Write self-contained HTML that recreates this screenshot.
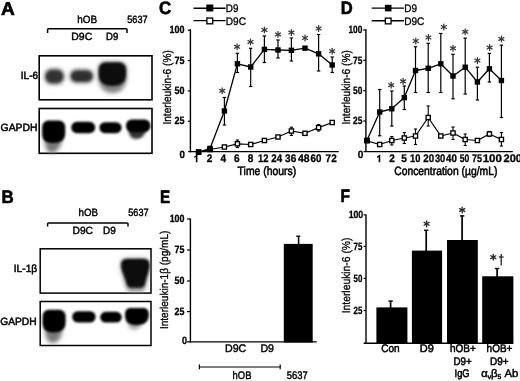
<!DOCTYPE html>
<html><head><meta charset="utf-8"><title>Figure</title>
<style>html,body{margin:0;padding:0;background:#fff;}svg{display:block;opacity:0.999;}text{font-family:"Liberation Sans",sans-serif;text-rendering:geometricPrecision;}</style>
</head><body>
<svg width="520" height="381" viewBox="0 0 520 381">
<defs>
<filter id="b1" x="-30%" y="-30%" width="160%" height="160%"><feGaussianBlur stdDeviation="1.6"/></filter>
<filter id="b2" x="-30%" y="-30%" width="160%" height="160%"><feGaussianBlur stdDeviation="1.1"/></filter>
<filter id="b3" x="-30%" y="-30%" width="160%" height="160%"><feGaussianBlur stdDeviation="2.2"/></filter>
</defs>
<rect width="520" height="381" fill="#fff"/>
<text x="0.90" y="14.50" font-size="18.4" font-weight="bold" fill="#000" textLength="13.80" lengthAdjust="spacingAndGlyphs"  stroke="#000" stroke-width="0.6">A</text>
<text x="1.40" y="202.80" font-size="18" font-weight="bold" fill="#000" textLength="12.20" lengthAdjust="spacingAndGlyphs"  stroke="#000" stroke-width="0.6">B</text>
<text x="159.00" y="14.30" font-size="18" font-weight="bold" fill="#000" textLength="12.20" lengthAdjust="spacingAndGlyphs"  stroke="#000" stroke-width="0.6">C</text>
<text x="340.80" y="14.30" font-size="18" font-weight="bold" fill="#000" textLength="12.00" lengthAdjust="spacingAndGlyphs"  stroke="#000" stroke-width="0.6">D</text>
<text x="160.00" y="202.60" font-size="18" font-weight="bold" fill="#000" textLength="10.20" lengthAdjust="spacingAndGlyphs"  stroke="#000" stroke-width="0.6">E</text>
<text x="340.40" y="202.30" font-size="18" font-weight="bold" fill="#000" textLength="9.50" lengthAdjust="spacingAndGlyphs"  stroke="#000" stroke-width="0.6">F</text>
<text x="77.20" y="23.40" font-size="10.5" font-weight="normal" fill="#000" textLength="19.80" lengthAdjust="spacingAndGlyphs"  stroke="#000" stroke-width="0.45">hOB</text>
<text x="127.30" y="23.40" font-size="10.5" font-weight="normal" fill="#000" textLength="20.20" lengthAdjust="spacingAndGlyphs"  stroke="#000" stroke-width="0.45">5637</text>
<text x="71.30" y="40.40" font-size="10.5" font-weight="normal" fill="#000" textLength="21.00" lengthAdjust="spacingAndGlyphs"  stroke="#000" stroke-width="0.45">D9C</text>
<text x="106.00" y="40.40" font-size="10.5" font-weight="normal" fill="#000" textLength="12.20" lengthAdjust="spacingAndGlyphs"  stroke="#000" stroke-width="0.45">D9</text>
<path d="M47.6 33 L47.6 29.6 Q47.6 28.8 48.6 28.8 L126 28.8 Q127 28.8 127 29.6 L127 33" fill="none" stroke="#000" stroke-width="1.5"/>
<rect x="39.20" y="55.80" width="112.80" height="44.00" fill="none" stroke="#000" stroke-width="1.6"/>
<rect x="39.20" y="108.50" width="112.80" height="44.80" fill="none" stroke="#000" stroke-width="1.6"/>
<text x="20.80" y="79.40" font-size="10.5" font-weight="normal" fill="#000" textLength="17.40" lengthAdjust="spacingAndGlyphs"  stroke="#000" stroke-width="0.5">IL-6</text>
<text x="0.60" y="131.30" font-size="10.5" font-weight="normal" fill="#000" textLength="36.80" lengthAdjust="spacingAndGlyphs"  stroke="#000" stroke-width="0.5">GAPDH</text>
<rect x="45.0" y="69.0" width="18.8" height="15.0" rx="6.5" fill="#3d3d3d" filter="url(#b3)"/>
<rect x="46.5" y="71.5" width="15.8" height="10.0" rx="5.0" fill="#333" filter="url(#b1)"/>
<rect x="70.2" y="69.8" width="23.0" height="12.8" rx="6.0" fill="#3d3d3d" filter="url(#b3)"/>
<rect x="72.0" y="72.0" width="19.4" height="8.6" rx="4.3" fill="#2e2e2e" filter="url(#b1)"/>
<path d="M98.0 69.8 C98.0 64.2 101.2 61.8 106.0 61.8 L118.8 61.8 C123.6 61.8 126.8 64.2 126.8 69.8 L126.8 76.0 C126.8 86.2 121.5 93.0 112.5 93.0 C103.5 93.0 98.0 86.2 98.0 76.0 Z" fill="#808080" filter="url(#b3)"/>
<path d="M98.8 70.6 C98.8 65.0 102.0 62.6 106.8 62.6 L118.0 62.6 C122.8 62.6 126.0 65.0 126.0 70.6 L126.0 75.0 C126.0 81.6 121.5 86.0 112.5 86.0 C103.5 86.0 98.8 81.6 98.8 75.0 Z" fill="#0a0a0a" filter="url(#b2)"/>
<path d="M44.5 131.0 C44.5 127.5 46.5 126.0 49.5 126.0 L57.0 126.0 C60.0 126.0 62.0 127.5 62.0 131.0 L62.0 138.0 C62.0 147.0 55.5 153.0 51.5 153.0 C47.5 153.0 44.5 147.0 44.5 138.0 Z" fill="#777" filter="url(#b3)"/>
<path d="M42.2 127.6 C42.2 122.7 45.0 120.6 49.2 120.6 L58.2 120.6 C62.4 120.6 65.2 122.7 65.2 127.6 L65.2 133.0 C65.2 139.0 62.0 143.0 53.0 143.0 C44.0 143.0 42.2 139.0 42.2 133.0 Z" fill="#000" filter="url(#b2)"/>
<rect x="71.2" y="121.8" width="24.0" height="11.4" rx="5.7" fill="#000" filter="url(#b2)"/>
<rect x="99.4" y="122.2" width="22.2" height="11.0" rx="5.5" fill="#000" filter="url(#b2)"/>
<path d="M128.5 128.0 C128.5 125.2 130.1 124.0 132.5 124.0 L142.0 124.0 C144.4 124.0 146.0 125.2 146.0 128.0 L146.0 129.0 C146.0 135.0 141.0 139.0 136.0 139.0 C131.0 139.0 128.5 135.0 128.5 129.0 Z" fill="#333" filter="url(#b1)"/>
<rect x="126.0" y="119.6" width="24.4" height="12.4" rx="5.8" fill="#000" filter="url(#b2)"/>
<text x="78.60" y="216.20" font-size="10.5" font-weight="normal" fill="#000" textLength="19.40" lengthAdjust="spacingAndGlyphs"  stroke="#000" stroke-width="0.45">hOB</text>
<text x="128.30" y="216.20" font-size="10.5" font-weight="normal" fill="#000" textLength="20.20" lengthAdjust="spacingAndGlyphs"  stroke="#000" stroke-width="0.45">5637</text>
<text x="72.50" y="233.80" font-size="10.5" font-weight="normal" fill="#000" textLength="20.50" lengthAdjust="spacingAndGlyphs"  stroke="#000" stroke-width="0.45">D9C</text>
<text x="103.00" y="233.80" font-size="10.5" font-weight="normal" fill="#000" textLength="12.80" lengthAdjust="spacingAndGlyphs"  stroke="#000" stroke-width="0.45">D9</text>
<path d="M47.6 226.5 L47.6 223.8 Q47.6 223 48.6 223 L127 223 Q128 223 128 223.8 L128 226.5" fill="none" stroke="#000" stroke-width="1.5"/>
<rect x="40.20" y="248.80" width="110.80" height="44.30" fill="none" stroke="#000" stroke-width="1.5"/>
<rect x="40.20" y="301.50" width="110.80" height="44.00" fill="none" stroke="#000" stroke-width="1.5"/>
<text x="13.80" y="272.40" font-size="10.5" font-weight="normal" fill="#000" textLength="23.40" lengthAdjust="spacingAndGlyphs"  stroke="#000" stroke-width="0.5">IL-1&#946;</text>
<text x="0.20" y="324.60" font-size="10.5" font-weight="normal" fill="#000" textLength="36.40" lengthAdjust="spacingAndGlyphs"  stroke="#000" stroke-width="0.5">GAPDH</text>
<path d="M120.6 264.2 Q120.6 258.2 126.6 258.2 L143.8 258.2 Q149.8 258.2 149.8 264.2 L149.8 266.0 C149.8 272.0 146.5 281.5 145.5 287.5 Q144.5 291.5 140.5 291.5 L131.0 291.5 Q127.0 291.5 126.0 287.5 C125.0 281.5 120.6 272.0 120.6 266.0 Z" fill="#858585" filter="url(#b3)"/>
<path d="M121.2 265.0 Q121.2 259.0 127.2 259.0 L143.4 259.0 Q149.4 259.0 149.4 265.0 L149.4 265.0 C149.4 271.0 146.0 277.5 145.0 283.5 Q144.0 287.5 140.0 287.5 L131.6 287.5 Q127.6 287.5 126.6 283.5 C125.6 277.5 121.2 271.0 121.2 265.0 Z" fill="#0a0a0a" filter="url(#b2)"/>
<path d="M45.0 321.0 C45.0 317.5 47.0 316.0 50.0 316.0 L57.5 316.0 C60.5 316.0 62.5 317.5 62.5 321.0 L62.5 328.0 C62.5 337.0 57.5 343.0 52.5 343.0 C47.5 343.0 45.0 337.0 45.0 328.0 Z" fill="#777" filter="url(#b3)"/>
<path d="M42.6 316.8 C42.6 311.9 45.4 309.8 49.6 309.8 L58.6 309.8 C62.8 309.8 65.6 311.9 65.6 316.8 L65.6 322.0 C65.6 328.3 62.5 332.5 53.5 332.5 C44.5 332.5 42.6 328.3 42.6 322.0 Z" fill="#000" filter="url(#b2)"/>
<rect x="72.2" y="311.2" width="23.4" height="11.4" rx="5.7" fill="#000" filter="url(#b2)"/>
<rect x="100.2" y="311.8" width="21.6" height="10.8" rx="5.4" fill="#000" filter="url(#b2)"/>
<path d="M128.0 320.0 C128.0 317.2 129.6 316.0 132.0 316.0 L138.0 316.0 C140.4 316.0 142.0 317.2 142.0 320.0 L142.0 320.0 C142.0 325.7 138.0 329.5 134.0 329.5 C130.0 329.5 128.0 325.7 128.0 320.0 Z" fill="#999" filter="url(#b3)"/>
<path d="M125.0 314.0 C125.0 309.8 127.4 308.0 131.0 308.0 L142.8 308.0 C146.4 308.0 148.8 309.8 148.8 314.0 L148.8 315.0 C148.8 321.0 145.5 325.0 136.5 325.0 C127.5 325.0 125.0 321.0 125.0 315.0 Z" fill="#000" filter="url(#b2)"/>
<line x1="193.50" y1="8.20" x2="225.60" y2="8.20" stroke="#000" stroke-width="1.4" stroke-linecap="butt"/>
<rect x="206.30" y="4.50" width="7.00" height="7.00" fill="#000" stroke="none" stroke-width="1"/>
<line x1="193.50" y1="20.60" x2="225.60" y2="20.60" stroke="#000" stroke-width="1.4" stroke-linecap="butt"/>
<rect x="206.90" y="18.00" width="5.80" height="5.80" fill="#fff" stroke="#000" stroke-width="1.35"/>
<text x="225.80" y="12.00" font-size="11" font-weight="normal" fill="#000" textLength="12.60" lengthAdjust="spacingAndGlyphs"  stroke="#000" stroke-width="0.35">D9</text>
<text x="225.80" y="24.80" font-size="11" font-weight="normal" fill="#000" textLength="20.20" lengthAdjust="spacingAndGlyphs"  stroke="#000" stroke-width="0.35">D9C</text>
<line x1="190.40" y1="29.20" x2="190.40" y2="152.30" stroke="#000" stroke-width="1.4" stroke-linecap="butt"/>
<line x1="188.20" y1="151.60" x2="338.80" y2="151.60" stroke="#000" stroke-width="1.4" stroke-linecap="butt"/>
<line x1="187.80" y1="30.20" x2="190.40" y2="30.20" stroke="#000" stroke-width="1.2" stroke-linecap="butt"/>
<text x="169.60" y="33.20" font-size="10.5" font-weight="bold" fill="#000" textLength="15.00" lengthAdjust="spacingAndGlyphs"  stroke="#000" stroke-width="0.3">100</text>
<line x1="187.80" y1="60.55" x2="190.40" y2="60.55" stroke="#000" stroke-width="1.2" stroke-linecap="butt"/>
<text x="174.60" y="63.55" font-size="10.5" font-weight="bold" fill="#000" textLength="10.00" lengthAdjust="spacingAndGlyphs"  stroke="#000" stroke-width="0.3">75</text>
<line x1="187.80" y1="90.90" x2="190.40" y2="90.90" stroke="#000" stroke-width="1.2" stroke-linecap="butt"/>
<text x="174.60" y="93.90" font-size="10.5" font-weight="bold" fill="#000" textLength="10.00" lengthAdjust="spacingAndGlyphs"  stroke="#000" stroke-width="0.3">50</text>
<line x1="187.80" y1="121.25" x2="190.40" y2="121.25" stroke="#000" stroke-width="1.2" stroke-linecap="butt"/>
<text x="174.60" y="124.25" font-size="10.5" font-weight="bold" fill="#000" textLength="10.00" lengthAdjust="spacingAndGlyphs"  stroke="#000" stroke-width="0.3">25</text>
<text x="179.60" y="158.40" font-size="10.5" font-weight="bold" fill="#000" textLength="5.40" lengthAdjust="spacingAndGlyphs"  stroke="#000" stroke-width="0.3">0</text>
<path d="M195.85 162.30 L195.85 157.00 L194.20 157.90 L194.20 156.60 Q195.70 155.90 196.40 154.70 L197.45 154.70 L197.45 162.30 Z" fill="#000"/>
<text x="206.70" y="162.30" font-size="11" font-weight="bold" fill="#000" textLength="5.60" lengthAdjust="spacingAndGlyphs"  stroke="#000" stroke-width="0.3">2</text>
<text x="220.40" y="162.30" font-size="11" font-weight="bold" fill="#000" textLength="5.60" lengthAdjust="spacingAndGlyphs"  stroke="#000" stroke-width="0.3">4</text>
<text x="234.00" y="162.30" font-size="11" font-weight="bold" fill="#000" textLength="5.60" lengthAdjust="spacingAndGlyphs"  stroke="#000" stroke-width="0.3">6</text>
<text x="247.70" y="162.30" font-size="11" font-weight="bold" fill="#000" textLength="5.60" lengthAdjust="spacingAndGlyphs"  stroke="#000" stroke-width="0.3">8</text>
<text x="257.90" y="162.30" font-size="11" font-weight="bold" fill="#000" textLength="10.50" lengthAdjust="spacingAndGlyphs"  stroke="#000" stroke-width="0.3">12</text>
<text x="271.30" y="162.30" font-size="11" font-weight="bold" fill="#000" textLength="10.80" lengthAdjust="spacingAndGlyphs"  stroke="#000" stroke-width="0.3">24</text>
<text x="285.10" y="162.30" font-size="11" font-weight="bold" fill="#000" textLength="11.20" lengthAdjust="spacingAndGlyphs"  stroke="#000" stroke-width="0.3">36</text>
<text x="297.90" y="162.30" font-size="11" font-weight="bold" fill="#000" textLength="11.60" lengthAdjust="spacingAndGlyphs"  stroke="#000" stroke-width="0.3">48</text>
<text x="310.60" y="162.30" font-size="11" font-weight="bold" fill="#000" textLength="10.90" lengthAdjust="spacingAndGlyphs"  stroke="#000" stroke-width="0.3">60</text>
<text x="325.60" y="162.30" font-size="11" font-weight="bold" fill="#000" textLength="11.10" lengthAdjust="spacingAndGlyphs"  stroke="#000" stroke-width="0.3">72</text>
<text x="237.60" y="174.80" font-size="12" font-weight="normal" fill="#000" textLength="58.60" lengthAdjust="spacingAndGlyphs"  stroke="#000" stroke-width="0.55">Time (hours)</text>
<text transform="translate(171.3,124.6) rotate(-90)" font-size="11.5" font-weight="normal" stroke="#000" stroke-width="0.3" textLength="74.4" lengthAdjust="spacingAndGlyphs">Interleukin-6 (%)</text>
<polyline points="198.60,152.00 210.00,149.50 224.40,147.00 237.40,143.80 250.70,144.50 264.40,140.50 278.00,137.00 291.40,131.00 305.00,133.30 318.60,127.60 332.20,122.50" fill="none" stroke="#000" stroke-width="1.2" stroke-linejoin="round"/>
<polyline points="198.60,152.30 210.00,148.40 224.40,111.00 237.40,63.80 250.70,67.00 264.40,49.40 278.00,50.00 291.40,50.30 305.00,48.20 318.60,53.80 332.20,65.00" fill="none" stroke="#000" stroke-width="1.3" stroke-linejoin="round"/>
<line x1="237.40" y1="140.00" x2="237.40" y2="147.50" stroke="#000" stroke-width="1.1" stroke-linecap="butt"/>
<line x1="235.80" y1="140.00" x2="239.00" y2="140.00" stroke="#000" stroke-width="1.1" stroke-linecap="butt"/>
<line x1="235.80" y1="147.50" x2="239.00" y2="147.50" stroke="#000" stroke-width="1.1" stroke-linecap="butt"/>
<line x1="291.40" y1="127.20" x2="291.40" y2="135.40" stroke="#000" stroke-width="1.1" stroke-linecap="butt"/>
<line x1="289.80" y1="127.20" x2="293.00" y2="127.20" stroke="#000" stroke-width="1.1" stroke-linecap="butt"/>
<line x1="289.80" y1="135.40" x2="293.00" y2="135.40" stroke="#000" stroke-width="1.1" stroke-linecap="butt"/>
<line x1="318.60" y1="124.50" x2="318.60" y2="131.00" stroke="#000" stroke-width="1.1" stroke-linecap="butt"/>
<line x1="317.00" y1="124.50" x2="320.20" y2="124.50" stroke="#000" stroke-width="1.1" stroke-linecap="butt"/>
<line x1="317.00" y1="131.00" x2="320.20" y2="131.00" stroke="#000" stroke-width="1.1" stroke-linecap="butt"/>
<line x1="224.40" y1="97.50" x2="224.40" y2="125.00" stroke="#000" stroke-width="1.2" stroke-linecap="butt"/>
<line x1="222.70" y1="97.50" x2="226.10" y2="97.50" stroke="#000" stroke-width="1.2" stroke-linecap="butt"/>
<line x1="222.70" y1="125.00" x2="226.10" y2="125.00" stroke="#000" stroke-width="1.2" stroke-linecap="butt"/>
<line x1="237.40" y1="53.30" x2="237.40" y2="72.50" stroke="#000" stroke-width="1.2" stroke-linecap="butt"/>
<line x1="235.70" y1="53.30" x2="239.10" y2="53.30" stroke="#000" stroke-width="1.2" stroke-linecap="butt"/>
<line x1="235.70" y1="72.50" x2="239.10" y2="72.50" stroke="#000" stroke-width="1.2" stroke-linecap="butt"/>
<line x1="250.70" y1="48.30" x2="250.70" y2="86.50" stroke="#000" stroke-width="1.2" stroke-linecap="butt"/>
<line x1="249.00" y1="48.30" x2="252.40" y2="48.30" stroke="#000" stroke-width="1.2" stroke-linecap="butt"/>
<line x1="249.00" y1="86.50" x2="252.40" y2="86.50" stroke="#000" stroke-width="1.2" stroke-linecap="butt"/>
<line x1="264.40" y1="35.90" x2="264.40" y2="62.50" stroke="#000" stroke-width="1.2" stroke-linecap="butt"/>
<line x1="262.70" y1="35.90" x2="266.10" y2="35.90" stroke="#000" stroke-width="1.2" stroke-linecap="butt"/>
<line x1="262.70" y1="62.50" x2="266.10" y2="62.50" stroke="#000" stroke-width="1.2" stroke-linecap="butt"/>
<line x1="278.00" y1="40.00" x2="278.00" y2="58.00" stroke="#000" stroke-width="1.2" stroke-linecap="butt"/>
<line x1="276.30" y1="40.00" x2="279.70" y2="40.00" stroke="#000" stroke-width="1.2" stroke-linecap="butt"/>
<line x1="276.30" y1="58.00" x2="279.70" y2="58.00" stroke="#000" stroke-width="1.2" stroke-linecap="butt"/>
<line x1="291.40" y1="38.00" x2="291.40" y2="61.00" stroke="#000" stroke-width="1.2" stroke-linecap="butt"/>
<line x1="289.70" y1="38.00" x2="293.10" y2="38.00" stroke="#000" stroke-width="1.2" stroke-linecap="butt"/>
<line x1="289.70" y1="61.00" x2="293.10" y2="61.00" stroke="#000" stroke-width="1.2" stroke-linecap="butt"/>
<line x1="318.60" y1="34.50" x2="318.60" y2="71.00" stroke="#000" stroke-width="1.2" stroke-linecap="butt"/>
<line x1="316.90" y1="34.50" x2="320.30" y2="34.50" stroke="#000" stroke-width="1.2" stroke-linecap="butt"/>
<line x1="316.90" y1="71.00" x2="320.30" y2="71.00" stroke="#000" stroke-width="1.2" stroke-linecap="butt"/>
<line x1="332.20" y1="57.00" x2="332.20" y2="72.50" stroke="#000" stroke-width="1.2" stroke-linecap="butt"/>
<line x1="330.50" y1="57.00" x2="333.90" y2="57.00" stroke="#000" stroke-width="1.2" stroke-linecap="butt"/>
<line x1="330.50" y1="72.50" x2="333.90" y2="72.50" stroke="#000" stroke-width="1.2" stroke-linecap="butt"/>
<rect x="196.50" y="149.90" width="4.20" height="4.20" fill="#fff" stroke="#000" stroke-width="1.35"/>
<rect x="207.90" y="147.40" width="4.20" height="4.20" fill="#fff" stroke="#000" stroke-width="1.35"/>
<rect x="222.30" y="144.90" width="4.20" height="4.20" fill="#fff" stroke="#000" stroke-width="1.35"/>
<rect x="235.30" y="141.70" width="4.20" height="4.20" fill="#fff" stroke="#000" stroke-width="1.35"/>
<rect x="248.60" y="142.40" width="4.20" height="4.20" fill="#fff" stroke="#000" stroke-width="1.35"/>
<rect x="262.30" y="138.40" width="4.20" height="4.20" fill="#fff" stroke="#000" stroke-width="1.35"/>
<rect x="275.90" y="134.90" width="4.20" height="4.20" fill="#fff" stroke="#000" stroke-width="1.35"/>
<rect x="289.30" y="128.90" width="4.20" height="4.20" fill="#fff" stroke="#000" stroke-width="1.35"/>
<rect x="302.90" y="131.20" width="4.20" height="4.20" fill="#fff" stroke="#000" stroke-width="1.35"/>
<rect x="316.50" y="125.50" width="4.20" height="4.20" fill="#fff" stroke="#000" stroke-width="1.35"/>
<rect x="330.10" y="120.40" width="4.20" height="4.20" fill="#fff" stroke="#000" stroke-width="1.35"/>
<rect x="195.90" y="149.60" width="5.40" height="5.40" fill="#000" stroke="none" stroke-width="1"/>
<rect x="207.30" y="145.70" width="5.40" height="5.40" fill="#000" stroke="none" stroke-width="1"/>
<rect x="221.70" y="108.30" width="5.40" height="5.40" fill="#000" stroke="none" stroke-width="1"/>
<rect x="234.70" y="61.10" width="5.40" height="5.40" fill="#000" stroke="none" stroke-width="1"/>
<rect x="248.00" y="64.30" width="5.40" height="5.40" fill="#000" stroke="none" stroke-width="1"/>
<rect x="261.70" y="46.70" width="5.40" height="5.40" fill="#000" stroke="none" stroke-width="1"/>
<rect x="275.30" y="47.30" width="5.40" height="5.40" fill="#000" stroke="none" stroke-width="1"/>
<rect x="288.70" y="47.60" width="5.40" height="5.40" fill="#000" stroke="none" stroke-width="1"/>
<rect x="302.30" y="45.50" width="5.40" height="5.40" fill="#000" stroke="none" stroke-width="1"/>
<rect x="315.90" y="51.10" width="5.40" height="5.40" fill="#000" stroke="none" stroke-width="1"/>
<rect x="329.50" y="62.30" width="5.40" height="5.40" fill="#000" stroke="none" stroke-width="1"/>
<line x1="222.20" y1="87.90" x2="222.20" y2="93.70" stroke="#383838" stroke-width="1.25" stroke-linecap="round"/>
<line x1="219.69" y1="89.35" x2="224.71" y2="92.25" stroke="#383838" stroke-width="1.25" stroke-linecap="round"/>
<line x1="224.71" y1="89.35" x2="219.69" y2="92.25" stroke="#383838" stroke-width="1.25" stroke-linecap="round"/>
<line x1="237.10" y1="43.90" x2="237.10" y2="49.70" stroke="#383838" stroke-width="1.25" stroke-linecap="round"/>
<line x1="234.59" y1="45.35" x2="239.61" y2="48.25" stroke="#383838" stroke-width="1.25" stroke-linecap="round"/>
<line x1="239.61" y1="45.35" x2="234.59" y2="48.25" stroke="#383838" stroke-width="1.25" stroke-linecap="round"/>
<line x1="250.50" y1="39.00" x2="250.50" y2="44.80" stroke="#383838" stroke-width="1.25" stroke-linecap="round"/>
<line x1="247.99" y1="40.45" x2="253.01" y2="43.35" stroke="#383838" stroke-width="1.25" stroke-linecap="round"/>
<line x1="253.01" y1="40.45" x2="247.99" y2="43.35" stroke="#383838" stroke-width="1.25" stroke-linecap="round"/>
<line x1="264.40" y1="27.00" x2="264.40" y2="32.80" stroke="#383838" stroke-width="1.25" stroke-linecap="round"/>
<line x1="261.89" y1="28.45" x2="266.91" y2="31.35" stroke="#383838" stroke-width="1.25" stroke-linecap="round"/>
<line x1="266.91" y1="28.45" x2="261.89" y2="31.35" stroke="#383838" stroke-width="1.25" stroke-linecap="round"/>
<line x1="278.00" y1="31.50" x2="278.00" y2="37.30" stroke="#383838" stroke-width="1.25" stroke-linecap="round"/>
<line x1="275.49" y1="32.95" x2="280.51" y2="35.85" stroke="#383838" stroke-width="1.25" stroke-linecap="round"/>
<line x1="280.51" y1="32.95" x2="275.49" y2="35.85" stroke="#383838" stroke-width="1.25" stroke-linecap="round"/>
<line x1="291.40" y1="29.70" x2="291.40" y2="35.50" stroke="#383838" stroke-width="1.25" stroke-linecap="round"/>
<line x1="288.89" y1="31.15" x2="293.91" y2="34.05" stroke="#383838" stroke-width="1.25" stroke-linecap="round"/>
<line x1="293.91" y1="31.15" x2="288.89" y2="34.05" stroke="#383838" stroke-width="1.25" stroke-linecap="round"/>
<line x1="305.00" y1="35.10" x2="305.00" y2="40.90" stroke="#383838" stroke-width="1.25" stroke-linecap="round"/>
<line x1="302.49" y1="36.55" x2="307.51" y2="39.45" stroke="#383838" stroke-width="1.25" stroke-linecap="round"/>
<line x1="307.51" y1="36.55" x2="302.49" y2="39.45" stroke="#383838" stroke-width="1.25" stroke-linecap="round"/>
<line x1="318.60" y1="25.60" x2="318.60" y2="31.40" stroke="#383838" stroke-width="1.25" stroke-linecap="round"/>
<line x1="316.09" y1="27.05" x2="321.11" y2="29.95" stroke="#383838" stroke-width="1.25" stroke-linecap="round"/>
<line x1="321.11" y1="27.05" x2="316.09" y2="29.95" stroke="#383838" stroke-width="1.25" stroke-linecap="round"/>
<line x1="332.20" y1="48.30" x2="332.20" y2="54.10" stroke="#383838" stroke-width="1.25" stroke-linecap="round"/>
<line x1="329.69" y1="49.75" x2="334.71" y2="52.65" stroke="#383838" stroke-width="1.25" stroke-linecap="round"/>
<line x1="334.71" y1="49.75" x2="329.69" y2="52.65" stroke="#383838" stroke-width="1.25" stroke-linecap="round"/>
<line x1="371.70" y1="8.10" x2="404.00" y2="8.10" stroke="#000" stroke-width="1.4" stroke-linecap="butt"/>
<rect x="384.90" y="4.80" width="6.60" height="6.60" fill="#000" stroke="none" stroke-width="1"/>
<line x1="371.70" y1="20.80" x2="404.00" y2="20.80" stroke="#000" stroke-width="1.4" stroke-linecap="butt"/>
<rect x="385.35" y="18.15" width="5.70" height="5.70" fill="#fff" stroke="#000" stroke-width="1.35"/>
<text x="404.20" y="11.80" font-size="11" font-weight="normal" fill="#000" textLength="12.80" lengthAdjust="spacingAndGlyphs"  stroke="#000" stroke-width="0.35">D9</text>
<text x="404.20" y="24.90" font-size="11" font-weight="normal" fill="#000" textLength="20.20" lengthAdjust="spacingAndGlyphs"  stroke="#000" stroke-width="0.35">D9C</text>
<line x1="365.90" y1="29.20" x2="365.90" y2="152.00" stroke="#000" stroke-width="1.4" stroke-linecap="butt"/>
<line x1="363.60" y1="151.60" x2="512.80" y2="151.60" stroke="#000" stroke-width="1.4" stroke-linecap="butt"/>
<line x1="363.20" y1="30.00" x2="365.90" y2="30.00" stroke="#000" stroke-width="1.2" stroke-linecap="butt"/>
<text x="348.45" y="33.30" font-size="10.5" font-weight="bold" fill="#000" textLength="13.95" lengthAdjust="spacingAndGlyphs"  stroke="#000" stroke-width="0.3">100</text>
<line x1="363.20" y1="60.35" x2="365.90" y2="60.35" stroke="#000" stroke-width="1.2" stroke-linecap="butt"/>
<text x="353.10" y="63.65" font-size="10.5" font-weight="bold" fill="#000" textLength="9.30" lengthAdjust="spacingAndGlyphs"  stroke="#000" stroke-width="0.3">75</text>
<line x1="363.20" y1="90.70" x2="365.90" y2="90.70" stroke="#000" stroke-width="1.2" stroke-linecap="butt"/>
<text x="353.10" y="94.00" font-size="10.5" font-weight="bold" fill="#000" textLength="9.30" lengthAdjust="spacingAndGlyphs"  stroke="#000" stroke-width="0.3">50</text>
<line x1="363.20" y1="121.05" x2="365.90" y2="121.05" stroke="#000" stroke-width="1.2" stroke-linecap="butt"/>
<text x="353.10" y="124.35" font-size="10.5" font-weight="bold" fill="#000" textLength="9.30" lengthAdjust="spacingAndGlyphs"  stroke="#000" stroke-width="0.3">25</text>
<text x="357.75" y="158.40" font-size="10.5" font-weight="bold" fill="#000" textLength="5.65" lengthAdjust="spacingAndGlyphs"  stroke="#000" stroke-width="0.3">0</text>
<path d="M378.65 162.30 L378.65 157.00 L377.00 157.90 L377.00 156.60 Q378.50 155.90 379.20 154.70 L380.25 154.70 L380.25 162.30 Z" fill="#000"/>
<text x="389.20" y="162.30" font-size="11" font-weight="bold" fill="#000" textLength="5.60" lengthAdjust="spacingAndGlyphs"  stroke="#000" stroke-width="0.3">2</text>
<text x="401.20" y="162.30" font-size="11" font-weight="bold" fill="#000" textLength="5.60" lengthAdjust="spacingAndGlyphs"  stroke="#000" stroke-width="0.3">5</text>
<text x="410.10" y="162.30" font-size="11" font-weight="bold" fill="#000" textLength="10.40" lengthAdjust="spacingAndGlyphs"  stroke="#000" stroke-width="0.3">10</text>
<text x="423.30" y="162.30" font-size="11" font-weight="bold" fill="#000" textLength="10.80" lengthAdjust="spacingAndGlyphs"  stroke="#000" stroke-width="0.3">20</text>
<text x="434.90" y="162.30" font-size="11" font-weight="bold" fill="#000" textLength="10.40" lengthAdjust="spacingAndGlyphs"  stroke="#000" stroke-width="0.3">30</text>
<text x="446.10" y="162.30" font-size="11" font-weight="bold" fill="#000" textLength="10.80" lengthAdjust="spacingAndGlyphs"  stroke="#000" stroke-width="0.3">40</text>
<text x="459.70" y="162.30" font-size="11" font-weight="bold" fill="#000" textLength="9.50" lengthAdjust="spacingAndGlyphs"  stroke="#000" stroke-width="0.3">50</text>
<text x="472.00" y="162.30" font-size="11" font-weight="bold" fill="#000" textLength="9.90" lengthAdjust="spacingAndGlyphs"  stroke="#000" stroke-width="0.3">75</text>
<text x="482.70" y="162.30" font-size="11" font-weight="bold" fill="#000" textLength="19.20" lengthAdjust="spacingAndGlyphs"  stroke="#000" stroke-width="0.3">100</text>
<text x="503.50" y="162.30" font-size="11" font-weight="bold" fill="#000" textLength="18.40" lengthAdjust="spacingAndGlyphs"  stroke="#000" stroke-width="0.3">200</text>
<text x="394.20" y="174.80" font-size="12" font-weight="normal" fill="#000" textLength="103.20" lengthAdjust="spacingAndGlyphs"  stroke="#000" stroke-width="0.55">Concentration (&#181;g/mL)</text>
<text transform="translate(350.1,124.6) rotate(-90)" font-size="11.5" font-weight="normal" stroke="#000" stroke-width="0.3" textLength="74.4" lengthAdjust="spacingAndGlyphs">Interleukin-6 (%)</text>
<polyline points="367.00,140.80 379.70,144.50 391.80,140.50 404.30,138.00 415.50,136.00 428.20,117.50 440.80,136.00 453.00,133.00 465.20,139.50 477.40,140.50 489.40,134.00 501.40,139.50" fill="none" stroke="#000" stroke-width="1.2" stroke-linejoin="round"/>
<polyline points="367.00,140.30 379.70,112.00 391.80,108.80 404.30,97.60 415.50,70.50 428.20,68.30 440.80,63.80 453.00,76.00 465.20,67.20 477.40,82.00 489.40,68.80 501.40,80.50" fill="none" stroke="#000" stroke-width="1.3" stroke-linejoin="round"/>
<line x1="391.80" y1="136.50" x2="391.80" y2="145.00" stroke="#000" stroke-width="1.1" stroke-linecap="butt"/>
<line x1="390.20" y1="136.50" x2="393.40" y2="136.50" stroke="#000" stroke-width="1.1" stroke-linecap="butt"/>
<line x1="390.20" y1="145.00" x2="393.40" y2="145.00" stroke="#000" stroke-width="1.1" stroke-linecap="butt"/>
<line x1="404.30" y1="132.50" x2="404.30" y2="143.50" stroke="#000" stroke-width="1.1" stroke-linecap="butt"/>
<line x1="402.70" y1="132.50" x2="405.90" y2="132.50" stroke="#000" stroke-width="1.1" stroke-linecap="butt"/>
<line x1="402.70" y1="143.50" x2="405.90" y2="143.50" stroke="#000" stroke-width="1.1" stroke-linecap="butt"/>
<line x1="415.50" y1="129.00" x2="415.50" y2="144.50" stroke="#000" stroke-width="1.1" stroke-linecap="butt"/>
<line x1="413.90" y1="129.00" x2="417.10" y2="129.00" stroke="#000" stroke-width="1.1" stroke-linecap="butt"/>
<line x1="413.90" y1="144.50" x2="417.10" y2="144.50" stroke="#000" stroke-width="1.1" stroke-linecap="butt"/>
<line x1="428.20" y1="106.00" x2="428.20" y2="126.00" stroke="#000" stroke-width="1.1" stroke-linecap="butt"/>
<line x1="426.60" y1="106.00" x2="429.80" y2="106.00" stroke="#000" stroke-width="1.1" stroke-linecap="butt"/>
<line x1="426.60" y1="126.00" x2="429.80" y2="126.00" stroke="#000" stroke-width="1.1" stroke-linecap="butt"/>
<line x1="453.00" y1="127.00" x2="453.00" y2="139.50" stroke="#000" stroke-width="1.1" stroke-linecap="butt"/>
<line x1="451.40" y1="127.00" x2="454.60" y2="127.00" stroke="#000" stroke-width="1.1" stroke-linecap="butt"/>
<line x1="451.40" y1="139.50" x2="454.60" y2="139.50" stroke="#000" stroke-width="1.1" stroke-linecap="butt"/>
<line x1="465.20" y1="134.00" x2="465.20" y2="145.50" stroke="#000" stroke-width="1.1" stroke-linecap="butt"/>
<line x1="463.60" y1="134.00" x2="466.80" y2="134.00" stroke="#000" stroke-width="1.1" stroke-linecap="butt"/>
<line x1="463.60" y1="145.50" x2="466.80" y2="145.50" stroke="#000" stroke-width="1.1" stroke-linecap="butt"/>
<line x1="489.40" y1="131.50" x2="489.40" y2="136.50" stroke="#000" stroke-width="1.1" stroke-linecap="butt"/>
<line x1="487.80" y1="131.50" x2="491.00" y2="131.50" stroke="#000" stroke-width="1.1" stroke-linecap="butt"/>
<line x1="487.80" y1="136.50" x2="491.00" y2="136.50" stroke="#000" stroke-width="1.1" stroke-linecap="butt"/>
<line x1="501.40" y1="132.50" x2="501.40" y2="146.00" stroke="#000" stroke-width="1.1" stroke-linecap="butt"/>
<line x1="499.80" y1="132.50" x2="503.00" y2="132.50" stroke="#000" stroke-width="1.1" stroke-linecap="butt"/>
<line x1="499.80" y1="146.00" x2="503.00" y2="146.00" stroke="#000" stroke-width="1.1" stroke-linecap="butt"/>
<line x1="379.70" y1="89.50" x2="379.70" y2="135.80" stroke="#000" stroke-width="1.2" stroke-linecap="butt"/>
<line x1="378.00" y1="89.50" x2="381.40" y2="89.50" stroke="#000" stroke-width="1.2" stroke-linecap="butt"/>
<line x1="378.00" y1="135.80" x2="381.40" y2="135.80" stroke="#000" stroke-width="1.2" stroke-linecap="butt"/>
<line x1="391.80" y1="91.00" x2="391.80" y2="126.00" stroke="#000" stroke-width="1.2" stroke-linecap="butt"/>
<line x1="390.10" y1="91.00" x2="393.50" y2="91.00" stroke="#000" stroke-width="1.2" stroke-linecap="butt"/>
<line x1="390.10" y1="126.00" x2="393.50" y2="126.00" stroke="#000" stroke-width="1.2" stroke-linecap="butt"/>
<line x1="404.30" y1="86.00" x2="404.30" y2="109.50" stroke="#000" stroke-width="1.2" stroke-linecap="butt"/>
<line x1="402.60" y1="86.00" x2="406.00" y2="86.00" stroke="#000" stroke-width="1.2" stroke-linecap="butt"/>
<line x1="402.60" y1="109.50" x2="406.00" y2="109.50" stroke="#000" stroke-width="1.2" stroke-linecap="butt"/>
<line x1="415.50" y1="46.80" x2="415.50" y2="92.50" stroke="#000" stroke-width="1.2" stroke-linecap="butt"/>
<line x1="413.80" y1="46.80" x2="417.20" y2="46.80" stroke="#000" stroke-width="1.2" stroke-linecap="butt"/>
<line x1="413.80" y1="92.50" x2="417.20" y2="92.50" stroke="#000" stroke-width="1.2" stroke-linecap="butt"/>
<line x1="428.20" y1="43.30" x2="428.20" y2="92.50" stroke="#000" stroke-width="1.2" stroke-linecap="butt"/>
<line x1="426.50" y1="43.30" x2="429.90" y2="43.30" stroke="#000" stroke-width="1.2" stroke-linecap="butt"/>
<line x1="426.50" y1="92.50" x2="429.90" y2="92.50" stroke="#000" stroke-width="1.2" stroke-linecap="butt"/>
<line x1="440.80" y1="33.50" x2="440.80" y2="92.50" stroke="#000" stroke-width="1.2" stroke-linecap="butt"/>
<line x1="439.10" y1="33.50" x2="442.50" y2="33.50" stroke="#000" stroke-width="1.2" stroke-linecap="butt"/>
<line x1="439.10" y1="92.50" x2="442.50" y2="92.50" stroke="#000" stroke-width="1.2" stroke-linecap="butt"/>
<line x1="453.00" y1="54.30" x2="453.00" y2="98.80" stroke="#000" stroke-width="1.2" stroke-linecap="butt"/>
<line x1="451.30" y1="54.30" x2="454.70" y2="54.30" stroke="#000" stroke-width="1.2" stroke-linecap="butt"/>
<line x1="451.30" y1="98.80" x2="454.70" y2="98.80" stroke="#000" stroke-width="1.2" stroke-linecap="butt"/>
<line x1="465.20" y1="38.10" x2="465.20" y2="94.00" stroke="#000" stroke-width="1.2" stroke-linecap="butt"/>
<line x1="463.50" y1="38.10" x2="466.90" y2="38.10" stroke="#000" stroke-width="1.2" stroke-linecap="butt"/>
<line x1="463.50" y1="94.00" x2="466.90" y2="94.00" stroke="#000" stroke-width="1.2" stroke-linecap="butt"/>
<line x1="477.40" y1="67.20" x2="477.40" y2="100.00" stroke="#000" stroke-width="1.2" stroke-linecap="butt"/>
<line x1="475.70" y1="67.20" x2="479.10" y2="67.20" stroke="#000" stroke-width="1.2" stroke-linecap="butt"/>
<line x1="475.70" y1="100.00" x2="479.10" y2="100.00" stroke="#000" stroke-width="1.2" stroke-linecap="butt"/>
<line x1="489.40" y1="53.40" x2="489.40" y2="82.00" stroke="#000" stroke-width="1.2" stroke-linecap="butt"/>
<line x1="487.70" y1="53.40" x2="491.10" y2="53.40" stroke="#000" stroke-width="1.2" stroke-linecap="butt"/>
<line x1="487.70" y1="82.00" x2="491.10" y2="82.00" stroke="#000" stroke-width="1.2" stroke-linecap="butt"/>
<line x1="501.40" y1="45.20" x2="501.40" y2="117.50" stroke="#000" stroke-width="1.2" stroke-linecap="butt"/>
<line x1="499.70" y1="45.20" x2="503.10" y2="45.20" stroke="#000" stroke-width="1.2" stroke-linecap="butt"/>
<line x1="499.70" y1="117.50" x2="503.10" y2="117.50" stroke="#000" stroke-width="1.2" stroke-linecap="butt"/>
<rect x="364.90" y="138.70" width="4.20" height="4.20" fill="#fff" stroke="#000" stroke-width="1.35"/>
<rect x="377.60" y="142.40" width="4.20" height="4.20" fill="#fff" stroke="#000" stroke-width="1.35"/>
<rect x="389.70" y="138.40" width="4.20" height="4.20" fill="#fff" stroke="#000" stroke-width="1.35"/>
<rect x="402.20" y="135.90" width="4.20" height="4.20" fill="#fff" stroke="#000" stroke-width="1.35"/>
<rect x="413.40" y="133.90" width="4.20" height="4.20" fill="#fff" stroke="#000" stroke-width="1.35"/>
<rect x="426.10" y="115.40" width="4.20" height="4.20" fill="#fff" stroke="#000" stroke-width="1.35"/>
<rect x="438.70" y="133.90" width="4.20" height="4.20" fill="#fff" stroke="#000" stroke-width="1.35"/>
<rect x="450.90" y="130.90" width="4.20" height="4.20" fill="#fff" stroke="#000" stroke-width="1.35"/>
<rect x="463.10" y="137.40" width="4.20" height="4.20" fill="#fff" stroke="#000" stroke-width="1.35"/>
<rect x="475.30" y="138.40" width="4.20" height="4.20" fill="#fff" stroke="#000" stroke-width="1.35"/>
<rect x="487.30" y="131.90" width="4.20" height="4.20" fill="#fff" stroke="#000" stroke-width="1.35"/>
<rect x="499.30" y="137.40" width="4.20" height="4.20" fill="#fff" stroke="#000" stroke-width="1.35"/>
<rect x="364.30" y="137.60" width="5.40" height="5.40" fill="#000" stroke="none" stroke-width="1"/>
<rect x="377.00" y="109.30" width="5.40" height="5.40" fill="#000" stroke="none" stroke-width="1"/>
<rect x="389.10" y="106.10" width="5.40" height="5.40" fill="#000" stroke="none" stroke-width="1"/>
<rect x="401.60" y="94.90" width="5.40" height="5.40" fill="#000" stroke="none" stroke-width="1"/>
<rect x="412.80" y="67.80" width="5.40" height="5.40" fill="#000" stroke="none" stroke-width="1"/>
<rect x="425.50" y="65.60" width="5.40" height="5.40" fill="#000" stroke="none" stroke-width="1"/>
<rect x="438.10" y="61.10" width="5.40" height="5.40" fill="#000" stroke="none" stroke-width="1"/>
<rect x="450.30" y="73.30" width="5.40" height="5.40" fill="#000" stroke="none" stroke-width="1"/>
<rect x="462.50" y="64.50" width="5.40" height="5.40" fill="#000" stroke="none" stroke-width="1"/>
<rect x="474.70" y="79.30" width="5.40" height="5.40" fill="#000" stroke="none" stroke-width="1"/>
<rect x="486.70" y="66.10" width="5.40" height="5.40" fill="#000" stroke="none" stroke-width="1"/>
<rect x="498.70" y="77.80" width="5.40" height="5.40" fill="#000" stroke="none" stroke-width="1"/>
<line x1="391.20" y1="82.30" x2="391.20" y2="88.10" stroke="#383838" stroke-width="1.25" stroke-linecap="round"/>
<line x1="388.69" y1="83.75" x2="393.71" y2="86.65" stroke="#383838" stroke-width="1.25" stroke-linecap="round"/>
<line x1="393.71" y1="83.75" x2="388.69" y2="86.65" stroke="#383838" stroke-width="1.25" stroke-linecap="round"/>
<line x1="403.10" y1="78.40" x2="403.10" y2="84.20" stroke="#383838" stroke-width="1.25" stroke-linecap="round"/>
<line x1="400.59" y1="79.85" x2="405.61" y2="82.75" stroke="#383838" stroke-width="1.25" stroke-linecap="round"/>
<line x1="405.61" y1="79.85" x2="400.59" y2="82.75" stroke="#383838" stroke-width="1.25" stroke-linecap="round"/>
<line x1="415.80" y1="38.10" x2="415.80" y2="43.90" stroke="#383838" stroke-width="1.25" stroke-linecap="round"/>
<line x1="413.29" y1="39.55" x2="418.31" y2="42.45" stroke="#383838" stroke-width="1.25" stroke-linecap="round"/>
<line x1="418.31" y1="39.55" x2="413.29" y2="42.45" stroke="#383838" stroke-width="1.25" stroke-linecap="round"/>
<line x1="428.40" y1="34.60" x2="428.40" y2="40.40" stroke="#383838" stroke-width="1.25" stroke-linecap="round"/>
<line x1="425.89" y1="36.05" x2="430.91" y2="38.95" stroke="#383838" stroke-width="1.25" stroke-linecap="round"/>
<line x1="430.91" y1="36.05" x2="425.89" y2="38.95" stroke="#383838" stroke-width="1.25" stroke-linecap="round"/>
<line x1="443.80" y1="24.10" x2="443.80" y2="29.90" stroke="#383838" stroke-width="1.25" stroke-linecap="round"/>
<line x1="441.29" y1="25.55" x2="446.31" y2="28.45" stroke="#383838" stroke-width="1.25" stroke-linecap="round"/>
<line x1="446.31" y1="25.55" x2="441.29" y2="28.45" stroke="#383838" stroke-width="1.25" stroke-linecap="round"/>
<line x1="453.00" y1="45.40" x2="453.00" y2="51.20" stroke="#383838" stroke-width="1.25" stroke-linecap="round"/>
<line x1="450.49" y1="46.85" x2="455.51" y2="49.75" stroke="#383838" stroke-width="1.25" stroke-linecap="round"/>
<line x1="455.51" y1="46.85" x2="450.49" y2="49.75" stroke="#383838" stroke-width="1.25" stroke-linecap="round"/>
<line x1="465.20" y1="28.90" x2="465.20" y2="34.70" stroke="#383838" stroke-width="1.25" stroke-linecap="round"/>
<line x1="462.69" y1="30.35" x2="467.71" y2="33.25" stroke="#383838" stroke-width="1.25" stroke-linecap="round"/>
<line x1="467.71" y1="30.35" x2="462.69" y2="33.25" stroke="#383838" stroke-width="1.25" stroke-linecap="round"/>
<line x1="477.40" y1="57.70" x2="477.40" y2="63.50" stroke="#383838" stroke-width="1.25" stroke-linecap="round"/>
<line x1="474.89" y1="59.15" x2="479.91" y2="62.05" stroke="#383838" stroke-width="1.25" stroke-linecap="round"/>
<line x1="479.91" y1="59.15" x2="474.89" y2="62.05" stroke="#383838" stroke-width="1.25" stroke-linecap="round"/>
<line x1="489.60" y1="44.70" x2="489.60" y2="50.50" stroke="#383838" stroke-width="1.25" stroke-linecap="round"/>
<line x1="487.09" y1="46.15" x2="492.11" y2="49.05" stroke="#383838" stroke-width="1.25" stroke-linecap="round"/>
<line x1="492.11" y1="46.15" x2="487.09" y2="49.05" stroke="#383838" stroke-width="1.25" stroke-linecap="round"/>
<line x1="501.40" y1="36.00" x2="501.40" y2="41.80" stroke="#383838" stroke-width="1.25" stroke-linecap="round"/>
<line x1="498.89" y1="37.45" x2="503.91" y2="40.35" stroke="#383838" stroke-width="1.25" stroke-linecap="round"/>
<line x1="503.91" y1="37.45" x2="498.89" y2="40.35" stroke="#383838" stroke-width="1.25" stroke-linecap="round"/>
<line x1="190.40" y1="218.50" x2="190.40" y2="342.60" stroke="#000" stroke-width="1.4" stroke-linecap="butt"/>
<line x1="186.90" y1="341.90" x2="316.80" y2="341.90" stroke="#000" stroke-width="1.4" stroke-linecap="butt"/>
<line x1="187.00" y1="219.00" x2="190.40" y2="219.00" stroke="#000" stroke-width="1.2" stroke-linecap="butt"/>
<text x="169.65" y="222.40" font-size="10.5" font-weight="bold" fill="#000" textLength="14.85" lengthAdjust="spacingAndGlyphs"  stroke="#000" stroke-width="0.3">100</text>
<line x1="187.00" y1="250.00" x2="190.40" y2="250.00" stroke="#000" stroke-width="1.2" stroke-linecap="butt"/>
<text x="174.60" y="253.40" font-size="10.5" font-weight="bold" fill="#000" textLength="9.90" lengthAdjust="spacingAndGlyphs"  stroke="#000" stroke-width="0.3">75</text>
<line x1="187.00" y1="281.00" x2="190.40" y2="281.00" stroke="#000" stroke-width="1.2" stroke-linecap="butt"/>
<text x="174.60" y="284.40" font-size="10.5" font-weight="bold" fill="#000" textLength="9.90" lengthAdjust="spacingAndGlyphs"  stroke="#000" stroke-width="0.3">50</text>
<line x1="187.00" y1="311.60" x2="190.40" y2="311.60" stroke="#000" stroke-width="1.2" stroke-linecap="butt"/>
<text x="174.60" y="315.00" font-size="10.5" font-weight="bold" fill="#000" textLength="9.90" lengthAdjust="spacingAndGlyphs"  stroke="#000" stroke-width="0.3">25</text>
<text x="182.00" y="344.30" font-size="10.5" font-weight="bold" fill="#000" textLength="5.00" lengthAdjust="spacingAndGlyphs"  stroke="#000" stroke-width="0.3">0</text>
<text transform="translate(168.3,329.1) rotate(-90)" font-size="11.3" font-weight="normal" stroke="#000" stroke-width="0.3" textLength="98.5" lengthAdjust="spacingAndGlyphs">Interleukin-1&#946; (pg/mL)</text>
<rect x="283.80" y="243.90" width="28.90" height="98.60" fill="#000" stroke="none" stroke-width="1"/>
<line x1="298.60" y1="236.00" x2="298.60" y2="244.50" stroke="#000" stroke-width="1.5" stroke-linecap="butt"/>
<line x1="296.20" y1="236.20" x2="300.20" y2="236.20" stroke="#000" stroke-width="1.3" stroke-linecap="butt"/>
<text x="225.00" y="352.40" font-size="11" font-weight="normal" fill="#000" textLength="21.30" lengthAdjust="spacingAndGlyphs"  stroke="#000" stroke-width="0.45">D9C</text>
<text x="260.40" y="352.40" font-size="11" font-weight="normal" fill="#000" textLength="13.50" lengthAdjust="spacingAndGlyphs"  stroke="#000" stroke-width="0.45">D9</text>
<line x1="199.40" y1="367.00" x2="280.20" y2="367.00" stroke="#000" stroke-width="1.2" stroke-linecap="butt"/>
<line x1="199.40" y1="364.40" x2="199.40" y2="369.20" stroke="#000" stroke-width="1.2" stroke-linecap="butt"/>
<line x1="280.20" y1="364.40" x2="280.20" y2="369.20" stroke="#000" stroke-width="1.2" stroke-linecap="butt"/>
<text x="232.60" y="379.30" font-size="11" font-weight="normal" fill="#000" textLength="18.80" lengthAdjust="spacingAndGlyphs"  stroke="#000" stroke-width="0.45">hOB</text>
<text x="286.80" y="379.30" font-size="11" font-weight="normal" fill="#000" textLength="20.90" lengthAdjust="spacingAndGlyphs"  stroke="#000" stroke-width="0.45">5637</text>
<line x1="366.00" y1="214.60" x2="366.00" y2="343.80" stroke="#000" stroke-width="1.4" stroke-linecap="butt"/>
<line x1="363.60" y1="343.30" x2="513.20" y2="343.30" stroke="#000" stroke-width="1.4" stroke-linecap="butt"/>
<line x1="363.60" y1="214.90" x2="366.00" y2="214.90" stroke="#000" stroke-width="1.2" stroke-linecap="butt"/>
<text x="348.65" y="218.40" font-size="10.5" font-weight="bold" fill="#000" textLength="14.55" lengthAdjust="spacingAndGlyphs"  stroke="#000" stroke-width="0.3">100</text>
<line x1="363.60" y1="246.40" x2="366.00" y2="246.40" stroke="#000" stroke-width="1.2" stroke-linecap="butt"/>
<text x="353.50" y="249.90" font-size="10.5" font-weight="bold" fill="#000" textLength="8.80" lengthAdjust="spacingAndGlyphs"  stroke="#000" stroke-width="0.3">75</text>
<line x1="363.60" y1="278.40" x2="366.00" y2="278.40" stroke="#000" stroke-width="1.2" stroke-linecap="butt"/>
<text x="353.50" y="281.90" font-size="10.5" font-weight="bold" fill="#000" textLength="8.80" lengthAdjust="spacingAndGlyphs"  stroke="#000" stroke-width="0.3">50</text>
<line x1="363.60" y1="310.50" x2="366.00" y2="310.50" stroke="#000" stroke-width="1.2" stroke-linecap="butt"/>
<text x="353.50" y="314.00" font-size="10.5" font-weight="bold" fill="#000" textLength="8.80" lengthAdjust="spacingAndGlyphs"  stroke="#000" stroke-width="0.3">25</text>
<text transform="translate(349.8,313.3) rotate(-90)" font-size="11.5" font-weight="normal" stroke="#000" stroke-width="0.3" textLength="75.8" lengthAdjust="spacingAndGlyphs">Interleukin-6 (%)</text>
<rect x="376.40" y="307.40" width="31.00" height="36.20" fill="#000" stroke="none" stroke-width="1"/>
<rect x="411.90" y="250.60" width="30.20" height="93.00" fill="#000" stroke="none" stroke-width="1"/>
<rect x="447.00" y="240.00" width="30.80" height="103.60" fill="#000" stroke="none" stroke-width="1"/>
<rect x="482.20" y="276.30" width="31.20" height="67.30" fill="#000" stroke="none" stroke-width="1"/>
<line x1="390.60" y1="300.80" x2="390.60" y2="308.00" stroke="#000" stroke-width="1.7" stroke-linecap="butt"/>
<line x1="388.40" y1="301.10" x2="392.80" y2="301.10" stroke="#000" stroke-width="1.4" stroke-linecap="butt"/>
<line x1="426.20" y1="230.00" x2="426.20" y2="251.00" stroke="#000" stroke-width="1.7" stroke-linecap="butt"/>
<line x1="424.00" y1="230.30" x2="428.40" y2="230.30" stroke="#000" stroke-width="1.4" stroke-linecap="butt"/>
<line x1="462.10" y1="215.60" x2="462.10" y2="241.00" stroke="#000" stroke-width="1.7" stroke-linecap="butt"/>
<line x1="459.90" y1="215.90" x2="464.30" y2="215.90" stroke="#000" stroke-width="1.4" stroke-linecap="butt"/>
<line x1="497.10" y1="268.20" x2="497.10" y2="277.00" stroke="#000" stroke-width="1.7" stroke-linecap="butt"/>
<line x1="494.90" y1="268.50" x2="499.30" y2="268.50" stroke="#000" stroke-width="1.4" stroke-linecap="butt"/>
<line x1="426.60" y1="220.90" x2="426.60" y2="226.70" stroke="#2a2a2a" stroke-width="1.35" stroke-linecap="round"/>
<line x1="424.09" y1="222.35" x2="429.11" y2="225.25" stroke="#2a2a2a" stroke-width="1.35" stroke-linecap="round"/>
<line x1="429.11" y1="222.35" x2="424.09" y2="225.25" stroke="#2a2a2a" stroke-width="1.35" stroke-linecap="round"/>
<line x1="462.20" y1="207.10" x2="462.20" y2="212.90" stroke="#2a2a2a" stroke-width="1.35" stroke-linecap="round"/>
<line x1="459.69" y1="208.55" x2="464.71" y2="211.45" stroke="#2a2a2a" stroke-width="1.35" stroke-linecap="round"/>
<line x1="464.71" y1="208.55" x2="459.69" y2="211.45" stroke="#2a2a2a" stroke-width="1.35" stroke-linecap="round"/>
<line x1="493.30" y1="254.30" x2="493.30" y2="260.10" stroke="#2a2a2a" stroke-width="1.35" stroke-linecap="round"/>
<line x1="490.79" y1="255.75" x2="495.81" y2="258.65" stroke="#2a2a2a" stroke-width="1.35" stroke-linecap="round"/>
<line x1="495.81" y1="255.75" x2="490.79" y2="258.65" stroke="#2a2a2a" stroke-width="1.35" stroke-linecap="round"/>
<line x1="501.20" y1="254.00" x2="501.20" y2="265.60" stroke="#222" stroke-width="1.3" stroke-linecap="butt"/>
<line x1="498.80" y1="257.00" x2="503.60" y2="257.00" stroke="#222" stroke-width="1.3" stroke-linecap="butt"/>
<text x="381.20" y="352.20" font-size="11" font-weight="normal" fill="#000" textLength="18.40" lengthAdjust="spacingAndGlyphs"  stroke="#000" stroke-width="0.55">Con</text>
<text x="419.80" y="352.20" font-size="11" font-weight="normal" fill="#000" textLength="14.00" lengthAdjust="spacingAndGlyphs"  stroke="#000" stroke-width="0.55">D9</text>
<text x="450.00" y="352.20" font-size="11" font-weight="normal" fill="#000" textLength="25.80" lengthAdjust="spacingAndGlyphs"  stroke="#000" stroke-width="0.55">hOB+</text>
<text x="453.40" y="364.80" font-size="11" font-weight="normal" fill="#000" textLength="18.20" lengthAdjust="spacingAndGlyphs"  stroke="#000" stroke-width="0.55">D9+</text>
<text x="454.60" y="377.20" font-size="11" font-weight="normal" fill="#000" textLength="15.00" lengthAdjust="spacingAndGlyphs"  stroke="#000" stroke-width="0.55">IgG</text>
<text x="486.60" y="352.20" font-size="11" font-weight="normal" fill="#000" textLength="25.80" lengthAdjust="spacingAndGlyphs"  stroke="#000" stroke-width="0.55">hOB+</text>
<text x="490.00" y="364.80" font-size="11" font-weight="normal" fill="#000" textLength="18.60" lengthAdjust="spacingAndGlyphs"  stroke="#000" stroke-width="0.55">D9+</text>
<text x="481.2" y="377.0" font-size="11" font-weight="normal" stroke="#000" stroke-width="0.45" textLength="37.2" lengthAdjust="spacingAndGlyphs">&#945;<tspan font-size="6.5" dy="2">v</tspan><tspan dy="-2">&#946;</tspan><tspan font-size="6.5" dy="2">5</tspan><tspan dy="-2"> Ab</tspan></text>
</svg></body></html>
